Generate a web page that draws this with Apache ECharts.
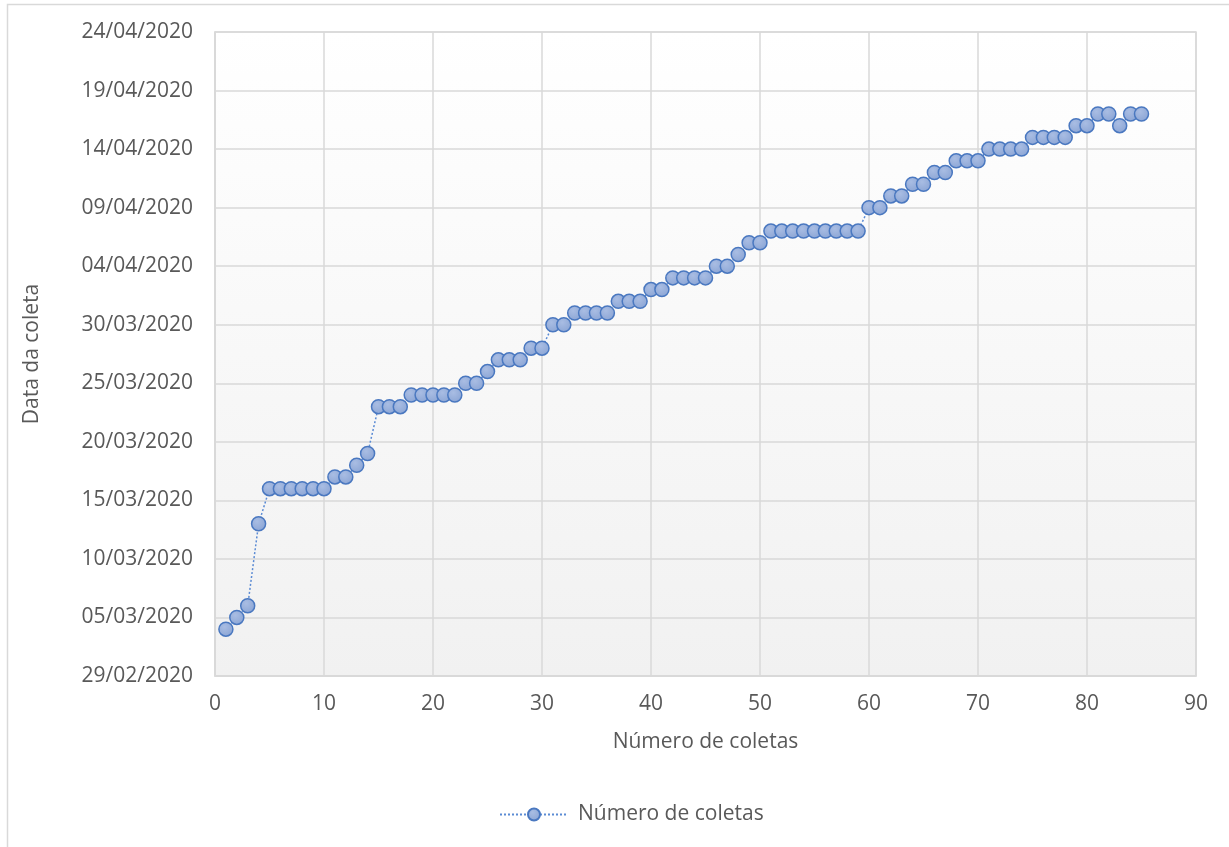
<!DOCTYPE html>
<html>
<head>
<meta charset="utf-8">
<script src="https://cdn.jsdelivr.net/npm/echarts@6/dist/echarts.min.js"></script>
<style>
html,body{margin:0;padding:0;background:#fff;}
#c{width:1229px;height:847px;}
</style>
</head>
<body>
<div id="c"></div>
<script>
// Number of collection (x)
const coletas = [1,2,3,4,5,6,7,8,9,10,11,12,13,14,15,16,17,18,19,20,21,22,23,24,25,26,27,28,29,30,
  31,32,33,34,35,36,37,38,39,40,41,42,43,44,45,46,47,48,49,50,51,52,53,54,55,56,57,58,59,60,
  61,62,63,64,65,66,67,68,69,70,71,72,73,74,75,76,77,78,79,80,81,82,83,84,85];
// Collection date (y)
const datas = [
  '04/03/2020','05/03/2020','06/03/2020','13/03/2020',
  '16/03/2020','16/03/2020','16/03/2020','16/03/2020','16/03/2020','16/03/2020',
  '17/03/2020','17/03/2020','18/03/2020','19/03/2020',
  '23/03/2020','23/03/2020','23/03/2020',
  '24/03/2020','24/03/2020','24/03/2020','24/03/2020','24/03/2020',
  '25/03/2020','25/03/2020','26/03/2020',
  '27/03/2020','27/03/2020','27/03/2020','28/03/2020','28/03/2020',
  '30/03/2020','30/03/2020',
  '31/03/2020','31/03/2020','31/03/2020','31/03/2020',
  '01/04/2020','01/04/2020','01/04/2020','02/04/2020','02/04/2020',
  '03/04/2020','03/04/2020','03/04/2020','03/04/2020',
  '04/04/2020','04/04/2020','05/04/2020','06/04/2020','06/04/2020',
  '07/04/2020','07/04/2020','07/04/2020','07/04/2020','07/04/2020','07/04/2020','07/04/2020','07/04/2020','07/04/2020',
  '09/04/2020','09/04/2020','10/04/2020','10/04/2020','11/04/2020','11/04/2020',
  '12/04/2020','12/04/2020','13/04/2020','13/04/2020','13/04/2020',
  '14/04/2020','14/04/2020','14/04/2020','14/04/2020',
  '15/04/2020','15/04/2020','15/04/2020','15/04/2020',
  '16/04/2020','16/04/2020','17/04/2020','17/04/2020','16/04/2020','17/04/2020','17/04/2020'
];
const yMinDate = '29/02/2020';
const yMaxDate = '24/04/2020';
const xTicks = {min:0, max:90, interval:10};

// date string -> Excel serial day number
function toSerial(s){
  const p = s.split('/').map(Number);
  return Date.UTC(p[2], p[1]-1, p[0]) / 86400000 + 25569;
}
function fromSerial(v){
  const d = new Date(Math.round(v - 25569) * 86400000);
  const dd = String(d.getUTCDate()).padStart(2,'0');
  const mm = String(d.getUTCMonth()+1).padStart(2,'0');
  return dd + '/' + mm + '/' + d.getUTCFullYear();
}

const seriesData = coletas.map((x,i) => [x, toSerial(datas[i])]);
const FONT = 'Open Sans';
const TXT = '#595959';
const GRID = '#d9d9d9';

const chart = echarts.init(document.getElementById('c'));
chart.setOption({
  animation: false,
  backgroundColor: '#fff',
  textStyle: {fontFamily: FONT},
  graphic: [{
    type: 'rect', silent: true, z: -10,
    shape: {x: 7.5, y: 4.5, width: 1300, height: 900},
    style: {fill: 'none', stroke: GRID, lineWidth: 1.5}
  }],
  grid: {
    left: 215, right: 33, top: 32, bottom: 171,
    show: true,
    borderColor: GRID, borderWidth: 1.5,
    backgroundColor: new echarts.graphic.LinearGradient(0,0,0,1,[
      {offset:0, color:'#ffffff'},{offset:1, color:'#f1f1f1'}
    ])
  },
  legend: {
    bottom: 17, left: 494,
    itemWidth: 68, itemHeight: 15, itemGap: 10,
    textStyle: {fontFamily: FONT, fontSize: 21, color: TXT, padding: [0,0,0,5]},
    data: ['Número de coletas']
  },
  xAxis: {
    type: 'value',
    min: xTicks.min, max: xTicks.max, interval: xTicks.interval,
    name: 'Número de coletas', nameLocation: 'middle', nameGap: 56,
    nameTextStyle: {fontFamily: FONT, fontSize: 21, color: TXT},
    axisLine: {show: true, lineStyle: {color: GRID, width: 1.5}},
    axisTick: {show: false},
    axisLabel: {fontFamily: FONT, fontSize: 21, color: TXT, margin: 18},
    splitLine: {show: true, lineStyle: {color: GRID, width: 1.5}}
  },
  yAxis: {
    type: 'value',
    min: toSerial(yMinDate), max: toSerial(yMaxDate), interval: 5,
    name: 'Data da coleta', nameLocation: 'middle', nameGap: 172, nameRotate: 90,
    nameTextStyle: {fontFamily: FONT, fontSize: 21, color: TXT},
    axisLine: {show: true, lineStyle: {color: GRID, width: 1.5}},
    axisTick: {show: false},
    axisLabel: {fontFamily: FONT, fontSize: 21, color: TXT, margin: 22, formatter: v => fromSerial(v)},
    splitLine: {show: true, lineStyle: {color: GRID, width: 1.5}}
  },
  series: [{
    name: 'Número de coletas',
    type: 'line',
    data: seriesData,
    symbol: 'circle', symbolSize: 14,
    lineStyle: {color: '#5b8bd4', width: 1.5, type: [2,2]},
    itemStyle: {
      color: new echarts.graphic.RadialGradient(0.4,0.35,0.7,[
        {offset:0, color:'#a9bde3'},{offset:1, color:'#8aa4d4'}
      ]),
      borderColor: '#4a78c0', borderWidth: 1.5
    }
  }]
});
</script>
</body>
</html>
